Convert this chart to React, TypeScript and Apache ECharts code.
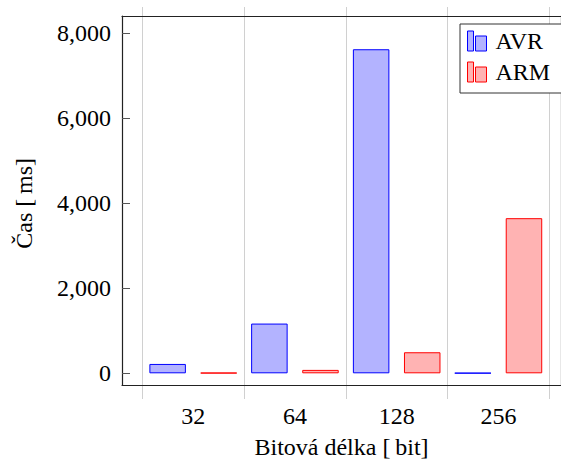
import React, { useEffect, useRef } from "react";
import * as echarts from "echarts";

const categories = ["32", "64", "128", "256"];
const avrValues = [220, 1170, 7625, 8];
const armValues = [12, 80, 495, 3650];
const seriesNames = ["AVR", "ARM"];

export default function App() {
  const ref = useRef<HTMLDivElement>(null);
  useEffect(() => {
    const el = ref.current;
    if (!el) return;
    const chart = echarts.init(el, undefined, { renderer: "svg" });
    const icon = "path://M0,0 h6 v20 h-6 Z M8,5 h11 v15 h-11 Z";
    const gridColor = "#d0d0d0";
    const lineStyle = { color: "#222", width: 1.2 };
    const boxX = (index: number, position: string) => ({
      gridIndex: index,
      type: "value",
      min: 0,
      max: 1,
      position,
      axisLine: { show: true, onZero: false, lineStyle },
      axisTick: { show: false },
      axisLabel: { show: false },
      splitLine: { show: false },
    });
    const bottomBox: any = boxX(0, "bottom");
    bottomBox.name = "Bitová délka [\u2009bit]";
    bottomBox.nameLocation = "middle";
    bottomBox.nameGap = 50;
    bottomBox.nameTextStyle = { fontFamily: "Liberation Serif", fontSize: 24, color: "#000" };
    const option: any = {
      animation: false,
      grid: [
        { left: 122, top: 16, width: 447.6, height: 374 },
        { left: 142.3, top: 16, width: 407, height: 374 },
        { left: 142.3, top: 33.3, width: 407, height: 340 },
      ],
      legend: {
        orient: "vertical",
        left: 460,
        top: 24,
        padding: [5, 12, 9, 7],
        backgroundColor: "#ffffff",
        borderColor: "#333333",
        borderWidth: 1,
        itemWidth: 19,
        itemHeight: 20,
        itemGap: 7,
        icon,
        textStyle: { fontFamily: "Liberation Serif", fontSize: 24, color: "#000", padding: [0, 0, 0, 4] },
        data: [
          { name: seriesNames[0], itemStyle: { color: "#b3b3ff", borderColor: "#0000ff", borderWidth: 1 } },
          { name: seriesNames[1], itemStyle: { color: "#ffb3b3", borderColor: "#ff0000", borderWidth: 1 } },
        ],
      },
      xAxis: [
        bottomBox,
        boxX(0, "top"),
        {
          gridIndex: 1,
          type: "category",
          data: categories,
          position: "bottom",
          axisLine: { show: false, onZero: false },
          axisTick: { show: true, length: 9, lineStyle: { color: gridColor, width: 1 } },
          axisLabel: { fontFamily: "Liberation Serif", fontSize: 24, color: "#000", margin: 14 },
          splitLine: { show: true, lineStyle: { color: gridColor, width: 1 } },
        },
        {
          gridIndex: 1,
          type: "category",
          data: categories,
          position: "top",
          axisLine: { show: false, onZero: false },
          axisTick: { show: true, length: 9, lineStyle: { color: gridColor, width: 1 } },
          axisLabel: { show: false },
          splitLine: { show: false },
        },
        {
          gridIndex: 2,
          type: "category",
          data: categories,
          show: false,
        },
      ],
      yAxis: [
        {
          gridIndex: 0,
          type: "value",
          min: 0,
          max: 1,
          position: "left",
          axisLine: { show: true, onZero: false, lineStyle },
          axisTick: { show: false },
          axisLabel: { show: false },
          splitLine: { show: false },
        },
        {
          gridIndex: 0,
          type: "value",
          min: 0,
          max: 1,
          position: "right",
          axisLine: { show: true, onZero: false, lineStyle },
          axisTick: { show: false },
          axisLabel: { show: false },
          splitLine: { show: false },
        },
        {
          gridIndex: 1,
          type: "value",
          show: false,
          splitLine: { show: false },
        },
        {
          gridIndex: 2,
          type: "value",
          min: 0,
          max: 8000,
          interval: 2000,
          position: "left",
          offset: 20.3,
          axisLine: { show: false, onZero: false },
          axisTick: { show: true, inside: true, length: 8, lineStyle: { color: "#555", width: 1 } },
          axisLabel: {
            fontFamily: "Liberation Serif",
            fontSize: 24,
            color: "#000",
            margin: 11,
            formatter: (v: number) => v.toLocaleString("en-US"),
          },
          splitLine: { show: false },
          name: "Čas [\u2009ms]",
          nameLocation: "middle",
          nameRotate: 90,
          nameGap: 86,
          nameTextStyle: { fontFamily: "Liberation Serif", fontSize: 24, color: "#000" },
        },
      ],
      series: [
        {
          name: seriesNames[0],
          type: "bar",
          xAxisIndex: 4,
          yAxisIndex: 3,
          data: avrValues,
          barWidth: 36.5,
          barGap: "40%",
          itemStyle: { color: "#b3b3ff", borderColor: "#0000ff", borderWidth: 1 },
        },
        {
          name: seriesNames[1],
          type: "bar",
          xAxisIndex: 4,
          yAxisIndex: 3,
          data: armValues,
          barWidth: 36.5,
          barGap: "40%",
          itemStyle: { color: "#ffb3b3", borderColor: "#ff0000", borderWidth: 1 },
        },
      ],
    };
    chart.setOption(option);
    const fixFonts = () => {
      el.querySelectorAll("text").forEach((t) => {
        (t as SVGTextElement).style.fontFamily = "'Liberation Serif', serif";
      });
    };
    fixFonts();
    chart.on("finished", fixFonts);
    const t1 = setTimeout(fixFonts, 0);
    const t2 = setTimeout(fixFonts, 100);
    return () => {
      clearTimeout(t1);
      clearTimeout(t2);
      chart.dispose();
    };
  }, []);
  return (
    <div
      ref={ref}
      style={{ position: "absolute", left: 0, top: 0, width: 561, height: 464 }}
    />
  );
}
